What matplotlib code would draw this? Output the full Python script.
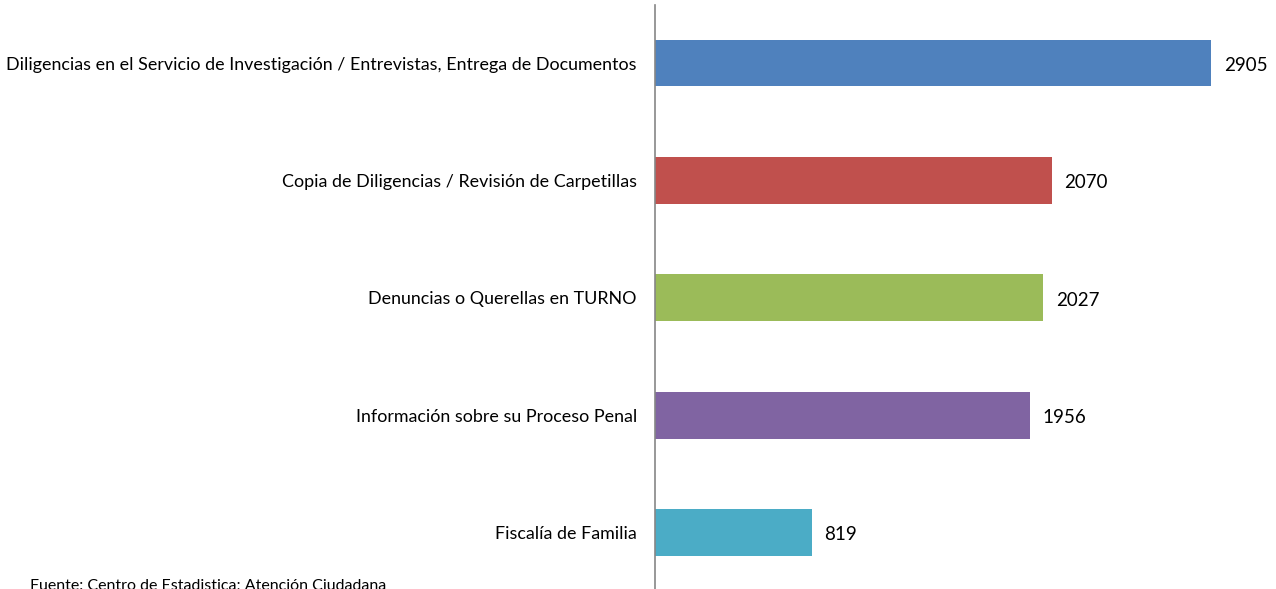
import matplotlib
matplotlib.use("Agg")
import matplotlib.pyplot as plt

categories = [
    "Diligencias en el Servicio de Investigación / Entrevistas, Entrega de Documentos",
    "Copia de Diligencias / Revisión de Carpetillas",
    "Denuncias o Querellas en TURNO",
    "Información sobre su Proceso Penal",
    "Fiscalía de Familia",
]
values = [2905, 2070, 2027, 1956, 819]
colors = ["#4F81BD", "#C0504D", "#9BBB59", "#8064A2", "#4BACC6"]

plt.rcParams["font.family"] = ["Lato", "DejaVu Sans"]

fig = plt.figure(figsize=(12.76, 5.89), dpi=100)
ax = fig.add_axes([655 / 1276, 0, 613 / 1276, 584 / 589])

pos = list(range(len(categories)))
bars = ax.barh(pos, values, height=0.4, color=colors)
ax.set_xlim(0, 3200)
ax.set_ylim(4.48, -0.494)

for b, v in zip(bars, values):
    ax.text(v + 65, b.get_y() + b.get_height() / 2 + 0.02, str(v),
            va="center", ha="left", fontsize=13.5)

ax.set_yticks(pos)
ax.set_yticklabels(categories, fontsize=12.9)
ax.tick_params(axis="y", length=0, pad=13)
ax.set_xticks([])
for s in ["top", "right", "bottom"]:
    ax.spines[s].set_visible(False)
ax.spines["left"].set_color("#868686")
ax.spines["left"].set_linewidth(1.2)

fig.text(30 / 1276, -4 / 589, "Fuente: Centro de Estadistica; Atención Ciudadana",
         fontsize=11.5, ha="left", va="bottom")

fig.savefig("out.png", dpi=100)
